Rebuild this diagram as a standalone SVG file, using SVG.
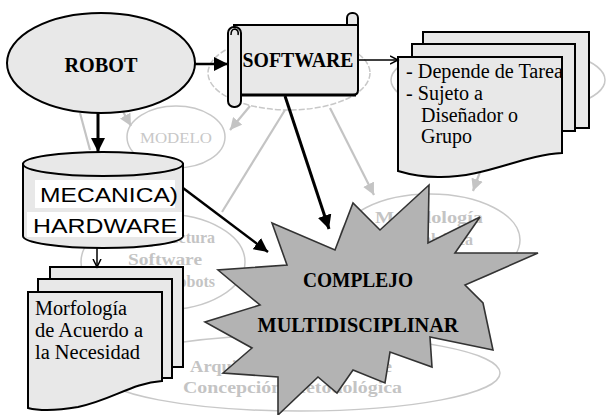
<svg xmlns="http://www.w3.org/2000/svg" width="606" height="415" viewBox="0 0 606 415">
  <style>
    .node { fill: #e8e8e8; stroke: #000; stroke-width: 2; }
    .ghost { fill: none; stroke: #c8c8c8; stroke-width: 1.5; }
    .ghost-line { stroke: #c4c4c4; stroke-width: 2.2; fill: none; }
    .ghost-text { font-family: "Liberation Serif", serif; font-weight: bold; font-size: 16px; fill: #c4c4c4; }
    .title { font-family: "Liberation Serif", serif; font-weight: bold; font-size: 21px; fill: #000; }
    .body { font-family: "Liberation Serif", serif; font-size: 20px; fill: #000; }
    .sans { font-family: "Liberation Sans", Arial, sans-serif; font-size: 21px; fill: #000; }
    .link { stroke: #000; fill: none; }
  </style>
  <defs>
    <marker id="headBlack" markerUnits="userSpaceOnUse" markerWidth="16" markerHeight="14" refX="14" refY="7" orient="auto">
      <path d="M0,0 L14,7 L0,14 Z" fill="#000"/>
    </marker>
    <marker id="headThin" markerUnits="userSpaceOnUse" markerWidth="10" markerHeight="10" refX="8" refY="5" orient="auto">
      <path d="M0,1 L8,5 L0,9" fill="none" stroke="#000" stroke-width="1.5"/>
    </marker>
    <marker id="headGray" markerUnits="userSpaceOnUse" markerWidth="14" markerHeight="12" refX="12" refY="6" orient="auto">
      <path d="M0,0 L12,6 L0,12 Z" fill="#c4c4c4"/>
    </marker>
  </defs>

  <rect width="606" height="415" fill="#fff"/>

  <!-- faded background layer: secondary concepts -->
  <g id="background">
    <ellipse class="ghost" cx="289" cy="73" rx="81" ry="37" stroke-dasharray="6 2"/>
    <ellipse class="ghost" cx="498" cy="80" rx="107" ry="35"/>
    <g id="modelo">
      <ellipse class="ghost" cx="176" cy="137" rx="49" ry="31"/>
      <text x="176" y="143" text-anchor="middle" font-family="Liberation Serif, serif" font-size="15" fill="#c8c8c8" textLength="72" lengthAdjust="spacingAndGlyphs">MODELO</text>
    </g>
    <g id="metodologia">
      <ellipse class="ghost" cx="430" cy="240" rx="90" ry="46"/>
      <text class="ghost-text" x="429" y="223" text-anchor="middle" textLength="108" lengthAdjust="spacingAndGlyphs">Metodología</text>
      <text class="ghost-text" x="473" y="245" text-anchor="end">Robótica</text>
    </g>
    <g id="arquitectura">
      <ellipse class="ghost" cx="163" cy="262" rx="82" ry="48"/>
      <text class="ghost-text" x="215" y="243" text-anchor="end">Arquitectura</text>
      <text class="ghost-text" x="165" y="265" text-anchor="middle" textLength="74" lengthAdjust="spacingAndGlyphs">Software</text>
      <text class="ghost-text" x="215" y="287" text-anchor="end">Robots</text>
    </g>
    <g id="concepcion">
      <ellipse class="ghost" cx="300" cy="373" rx="200" ry="38"/>
      <text class="ghost-text" x="190" y="372" textLength="202" lengthAdjust="spacingAndGlyphs">Arquitectura de Software</text>
      <text class="ghost-text" x="183" y="393" textLength="219" lengthAdjust="spacingAndGlyphs">Concepción Metodológica</text>
    </g>
    <g id="background-links">
      <line class="ghost-line" x1="330" y1="108" x2="374" y2="195" marker-end="url(#headGray)"/>
      <line class="ghost-line" x1="480" y1="172" x2="473" y2="191" marker-end="url(#headGray)"/>
      <line class="ghost-line" x1="250" y1="106" x2="230" y2="130" marker-end="url(#headGray)"/>
      <line class="ghost-line" x1="285" y1="110" x2="222" y2="212"/>
      <line class="ghost-line" x1="121" y1="108" x2="131" y2="126" marker-end="url(#headGray)"/>
      <line class="ghost-line" x1="80" y1="113" x2="90" y2="150"/>
    </g>
  </g>

  <!-- ROBOT -->
  <g id="robot">
    <ellipse class="node" cx="101" cy="63" rx="94" ry="50"/>
    <text class="title" x="101" y="72" text-anchor="middle" textLength="73" lengthAdjust="spacingAndGlyphs">ROBOT</text>
  </g>

  <!-- SOFTWARE scroll -->
  <g id="software">
    <rect class="node" x="347" y="13" width="11" height="16" rx="5"/>
    <path class="node" d="M234,25 H358 V90 Q358,95 353,95 H234 Z"/>
    <line x1="241" y1="95" x2="356" y2="95" stroke="#000" stroke-width="3"/>
    <rect class="node" x="228" y="27" width="13" height="80" rx="6"/>
    <path d="M231,35 Q231,29 235,29 Q239,30 238,35" fill="none" stroke="#000" stroke-width="1.5"/>
    <text class="title" x="298" y="67" text-anchor="middle" textLength="111" lengthAdjust="spacingAndGlyphs">SOFTWARE</text>
  </g>

  <!-- task notes document stack -->
  <g id="tarea-docs">
    <rect class="node" x="423" y="32" width="166" height="96"/>
    <rect class="node" x="412" y="44" width="163" height="87"/>
    <path class="node" d="M398,57 H562 V153 C522,155 485,178 438,177 C420,177 408,174 398,171 Z"/>
    <text class="body" x="406" y="78" textLength="157" lengthAdjust="spacingAndGlyphs">- Depende de Tarea</text>
    <text class="body" x="406" y="100" textLength="77" lengthAdjust="spacingAndGlyphs">- Sujeto a</text>
    <text class="body" x="421" y="122" textLength="97" lengthAdjust="spacingAndGlyphs">Diseñador o</text>
    <text class="body" x="421" y="143" textLength="51" lengthAdjust="spacingAndGlyphs">Grupo</text>
  </g>

  <!-- MECANICA / HARDWARE cylinder -->
  <g id="hardware">
    <path class="node" d="M23,164 V236 A80,12 0 0 0 183,236 V164 Z"/>
    <ellipse class="node" cx="103" cy="164" rx="80" ry="12"/>
    <rect x="35" y="180" width="140" height="28" fill="#fff"/>
    <rect x="27" y="212" width="155" height="25" fill="#fff"/>
    <text class="sans" x="40" y="202" textLength="138" lengthAdjust="spacingAndGlyphs">MECANICA)</text>
    <text class="sans" x="33" y="233" textLength="144" lengthAdjust="spacingAndGlyphs">HARDWARE</text>
  </g>

  <!-- morphology document stack -->
  <g id="morfologia-docs">
    <rect class="node" x="50" y="267" width="133" height="100"/>
    <rect class="node" x="38" y="279" width="134" height="99"/>
    <path class="node" d="M28,292 H162 V381 C132,383 112,400 78,407 C55,411 40,411 28,408 Z"/>
    <text class="body" x="35" y="315" textLength="92" lengthAdjust="spacingAndGlyphs">Morfología</text>
    <text class="body" x="35" y="337" textLength="108" lengthAdjust="spacingAndGlyphs">de Acuerdo a</text>
    <text class="body" x="35" y="359" textLength="105" lengthAdjust="spacingAndGlyphs">la Necesidad</text>
  </g>

  <!-- COMPLEJO MULTIDISCIPLINAR starburst -->
  <g id="complejo">
    <polygon points="272,223 335,250 353,203 380,230 429,185 428,243 480,217 455,253 538,253 465,285 483,303 493,350 430,337 432,367 390,352 385,383 353,370 337,393 318,377 278,415 278,377 223,373 252,348 205,322 260,305 218,270 287,265"
             fill="#b3b3b3" stroke="#333" stroke-width="1.6" stroke-linejoin="miter"/>
    <text class="title" x="358" y="287" text-anchor="middle" textLength="110" lengthAdjust="spacingAndGlyphs">COMPLEJO</text>
    <text class="title" x="358" y="332" text-anchor="middle" textLength="201" lengthAdjust="spacingAndGlyphs">MULTIDISCIPLINAR</text>
  </g>

  <!-- main connectors -->
  <g id="connectors">
    <line class="link" x1="195" y1="64" x2="228" y2="64" stroke-width="2.5" marker-end="url(#headBlack)"/>
    <line class="link" x1="98" y1="113" x2="98" y2="152" stroke-width="3" marker-end="url(#headBlack)"/>
    <line class="link" x1="183" y1="188" x2="268" y2="252" stroke-width="2.5" marker-end="url(#headBlack)"/>
    <line class="link" x1="285" y1="96" x2="329" y2="229" stroke-width="3" marker-end="url(#headBlack)"/>
    <line class="link" x1="358" y1="60" x2="398" y2="60" stroke-width="1.5" marker-end="url(#headThin)"/>
    <line class="link" x1="97" y1="248" x2="97" y2="267" stroke-width="1.5" marker-end="url(#headThin)"/>
  </g>
</svg>
